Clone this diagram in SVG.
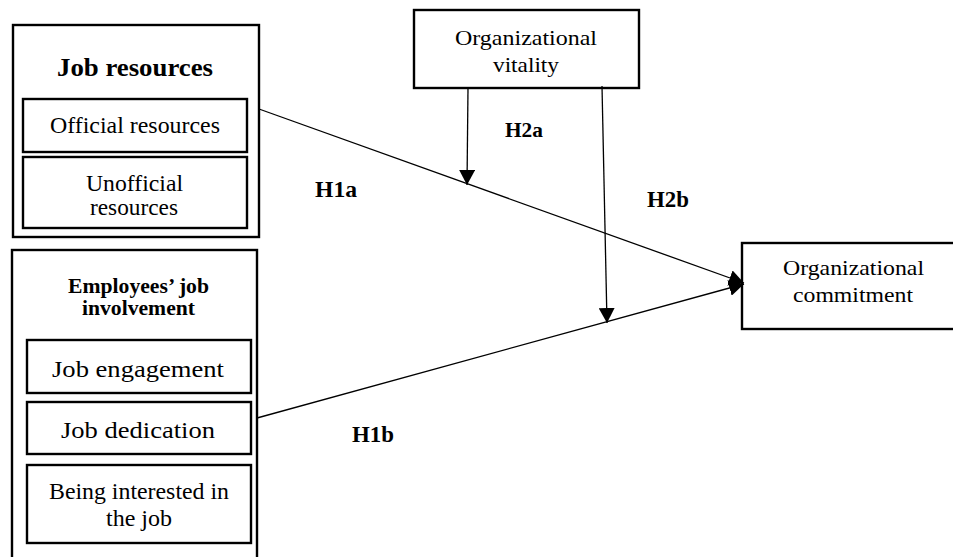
<svg xmlns="http://www.w3.org/2000/svg" width="953" height="557" viewBox="0 0 953 557">
<style>
.box{fill:#fff;stroke:#000;stroke-width:2.4}
.t{font-family:"Liberation Serif","Times New Roman",serif;text-anchor:middle;fill:#000}
.b{font-weight:bold}
.ln{stroke:#000;stroke-width:1.3;fill:none}
</style>
<defs>
<marker id="ah" markerUnits="userSpaceOnUse" markerWidth="16" markerHeight="16" viewBox="0 0 16 16" refX="15" refY="8" orient="auto">
<path d="M0,0 L15,8 L0,16 Z" fill="#000"/>
</marker>
<clipPath id="clipUnoff"><rect x="23" y="157" width="224" height="59"/></clipPath>
</defs>
<rect width="953" height="557" fill="#fff"/>

<g id="job-resources">
<rect class="box" x="13" y="25" width="246" height="212"/>
<text class="t b" x="135" y="76" font-size="25" textLength="156" lengthAdjust="spacingAndGlyphs">Job resources</text>
<g id="official-resources">
<rect class="box" x="23" y="99" width="224" height="53"/>
<text class="t" x="135" y="133" font-size="23" textLength="170" lengthAdjust="spacingAndGlyphs">Official resources</text>
</g>
<g id="unofficial-resources">
<rect class="box" x="23" y="157" width="224" height="71"/>
<g clip-path="url(#clipUnoff)">
<text class="t" x="134.5" y="191" font-size="23" textLength="97" lengthAdjust="spacingAndGlyphs">Unofficial</text>
<text class="t" x="134" y="215" font-size="23" textLength="88" lengthAdjust="spacingAndGlyphs">resources</text>
</g>
</g>
</g>

<g id="job-involvement">
<rect class="box" x="12" y="250" width="245" height="312"/>
<text class="t b" x="138.5" y="293" font-size="20" textLength="141" lengthAdjust="spacingAndGlyphs">Employees’ job</text>
<text class="t b" x="138.5" y="315" font-size="20" textLength="113" lengthAdjust="spacingAndGlyphs">involvement</text>
<g id="job-engagement">
<rect class="box" x="27" y="340" width="224" height="53"/>
<text class="t" x="138" y="377" font-size="23" textLength="172" lengthAdjust="spacingAndGlyphs">Job engagement</text>
</g>
<g id="job-dedication">
<rect class="box" x="27" y="402" width="224" height="52"/>
<text class="t" x="138" y="438" font-size="23" textLength="154" lengthAdjust="spacingAndGlyphs">Job dedication</text>
</g>
<g id="being-interested">
<rect class="box" x="27" y="465" width="224" height="78"/>
<text class="t" x="139" y="499" font-size="23" textLength="180" lengthAdjust="spacingAndGlyphs">Being interested in</text>
<text class="t" x="139" y="526" font-size="23" textLength="66" lengthAdjust="spacingAndGlyphs">the job</text>
</g>
</g>

<g id="organizational-vitality">
<rect class="box" x="414" y="10" width="225" height="78"/>
<text class="t" x="526" y="45" font-size="21" textLength="142" lengthAdjust="spacingAndGlyphs">Organizational</text>
<text class="t" x="526" y="72" font-size="21" textLength="66" lengthAdjust="spacingAndGlyphs">vitality</text>
</g>

<g id="organizational-commitment">
<rect class="box" x="742" y="243" width="220" height="86"/>
<text class="t" x="853.5" y="275" font-size="21" textLength="141" lengthAdjust="spacingAndGlyphs">Organizational</text>
<text class="t" x="853" y="302" font-size="21" textLength="120" lengthAdjust="spacingAndGlyphs">commitment</text>
</g>

<g id="connectors">
<line class="ln" x1="259" y1="109" x2="744" y2="283" marker-end="url(#ah)"/>
<line class="ln" x1="257" y1="418" x2="744" y2="284" marker-end="url(#ah)"/>
<line class="ln" x1="468" y1="88" x2="467" y2="185" marker-end="url(#ah)"/>
<line class="ln" x1="602" y1="86" x2="607" y2="323" marker-end="url(#ah)"/>
</g>

<g id="labels">
<text class="t b" x="524" y="137" font-size="21" textLength="38" lengthAdjust="spacingAndGlyphs">H2a</text>
<text class="t b" x="336" y="197" font-size="23" textLength="42" lengthAdjust="spacingAndGlyphs">H1a</text>
<text class="t b" x="668" y="207" font-size="23" textLength="42" lengthAdjust="spacingAndGlyphs">H2b</text>
<text class="t b" x="373" y="442" font-size="23" textLength="42" lengthAdjust="spacingAndGlyphs">H1b</text>
</g>
</svg>
